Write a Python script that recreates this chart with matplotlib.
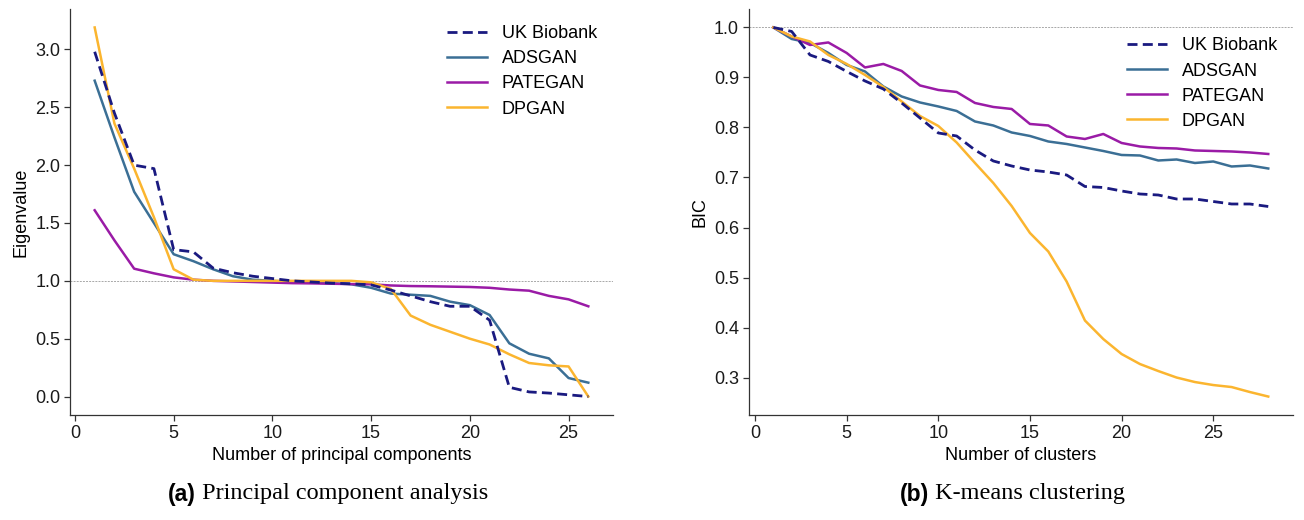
import matplotlib
matplotlib.use("Agg")
import matplotlib.pyplot as plt

# ---------------- data ----------------
pca_x = list(range(1, 27))
pca_uk = [2.98, 2.45, 2.00, 1.97, 1.27, 1.25, 1.11, 1.07, 1.04, 1.02, 1.00, 0.99, 0.98,
          0.975, 0.965, 0.92, 0.87, 0.82, 0.78, 0.78, 0.66, 0.08, 0.04, 0.03, 0.015, 0.0]
pca_ads = [2.73, 2.24, 1.77, 1.50, 1.23, 1.17, 1.10, 1.04, 1.01, 1.00, 0.99, 0.985, 0.98,
           0.97, 0.94, 0.89, 0.88, 0.87, 0.82, 0.79, 0.705, 0.46, 0.37, 0.33, 0.16, 0.12]
pca_pate = [1.61, 1.35, 1.105, 1.065, 1.03, 1.01, 1.0, 0.995, 0.99, 0.985, 0.98, 0.978, 0.975,
            0.972, 0.97, 0.96, 0.955, 0.953, 0.95, 0.947, 0.94, 0.925, 0.915, 0.87, 0.84, 0.78]
pca_dp = [3.19, 2.36, 1.97, 1.55, 1.10, 1.01, 1.0, 1.0, 1.0, 1.0, 1.0, 1.0, 1.0,
          1.0, 0.987, 0.93, 0.70, 0.62, 0.56, 0.50, 0.45, 0.365, 0.29, 0.27, 0.26, 0.0]

km_x = list(range(1, 29))
km_uk = [1.0, 0.992, 0.945, 0.932, 0.912, 0.893, 0.877, 0.849, 0.819, 0.789, 0.783, 0.755,
         0.733, 0.723, 0.715, 0.711, 0.705, 0.682, 0.680, 0.673, 0.667, 0.665, 0.657, 0.657,
         0.652, 0.647, 0.647, 0.642]
km_ads = [1.0, 0.977, 0.969, 0.949, 0.925, 0.912, 0.882, 0.862, 0.850, 0.842, 0.833, 0.812,
          0.804, 0.790, 0.783, 0.772, 0.767, 0.760, 0.753, 0.745, 0.744, 0.734, 0.736, 0.729,
          0.732, 0.722, 0.724, 0.718]
km_pate = [1.0, 0.982, 0.965, 0.970, 0.949, 0.920, 0.927, 0.913, 0.884, 0.875, 0.871, 0.849,
           0.841, 0.837, 0.807, 0.804, 0.782, 0.777, 0.787, 0.769, 0.762, 0.759, 0.758, 0.754,
           0.753, 0.752, 0.750, 0.747]
km_dp = [1.0, 0.982, 0.972, 0.945, 0.927, 0.905, 0.881, 0.852, 0.823, 0.803, 0.770, 0.729,
         0.689, 0.643, 0.589, 0.552, 0.492, 0.414, 0.377, 0.347, 0.327, 0.313, 0.300, 0.291,
         0.285, 0.281, 0.271, 0.262]

labels = ["UK Biobank", "ADSGAN", "PATEGAN", "DPGAN"]
colors = ["#1a1a80", "#3b6f95", "#9a1ba6", "#fbb52f"]

plt.rcParams['font.family'] = ['Liberation Sans', 'DejaVu Sans']
plt.rcParams['font.size'] = 13

fig = plt.figure(figsize=(13.04, 5.2), dpi=100)
ax1 = fig.add_axes([70/1304, 105/520, 543/1304, 406/520])
ax2 = fig.add_axes([748.6/1304, 105/520, 544.4/1304, 406/520])


def draw(ax, x, series, xlabel, ylabel, yticks, legend_anchor):
    ax.axhline(1.0, color="#a8a8a8", lw=0.7, ls=(0, (2, 1.2)), zorder=1)
    for i, (ys, lab, col) in enumerate(zip(series, labels, colors)):
        if i == 0:
            ax.plot(x, ys, color=col, lw=2.0, ls=(0, (3.6, 1.9)), label=lab, zorder=5)
        else:
            ax.plot(x, ys, color=col, lw=1.8, label=lab, zorder=3)
    ax.set_xlabel(xlabel, fontsize=13, labelpad=4)
    ax.set_ylabel(ylabel, fontsize=13, labelpad=4)
    ax.set_xticks([0, 5, 10, 15, 20, 25])
    ax.set_yticks(yticks)
    for s in ["top", "right"]:
        ax.spines[s].set_visible(False)
    for s in ["left", "bottom"]:
        ax.spines[s].set_color("#333333")
        ax.spines[s].set_linewidth(0.9)
    ax.tick_params(axis="both", length=4, width=0.9, color="#333333",
                   labelsize=13, labelcolor="#1a1a1a", pad=3)
    leg = ax.legend(loc="upper right", bbox_to_anchor=legend_anchor, frameon=False,
                    fontsize=13, handlelength=2.2, handletextpad=0.8, labelspacing=0.45)
    return leg


draw(ax1, pca_x, [pca_uk, pca_ads, pca_pate, pca_dp],
     "Number of principal components", "Eigenvalue",
     [0.0, 0.5, 1.0, 1.5, 2.0, 2.5, 3.0], (1.0, 1.0))
ax1.set_yticklabels(["0.0", "0.5", "1.0", "1.5", "2.0", "2.5", "3.0"])
draw(ax2, km_x, [km_uk, km_ads, km_pate, km_dp],
     "Number of clusters", "BIC",
     [0.3, 0.4, 0.5, 0.6, 0.7, 0.8, 0.9, 1.0], (1.0, 0.97))
ax2.set_yticklabels(["0.3", "0.4", "0.5", "0.6", "0.7", "0.8", "0.9", "1.0"])

# captions
for xc, tag, txt in [(328, "(a)", "Principal component analysis"),
                     (1012, "(b)", "K-means clustering")]:
    t1 = fig.text(0, 0, tag, fontsize=16.5, fontweight="bold",
                  family=["Liberation Sans", "DejaVu Sans"], va="center", ha="left")
    t2 = fig.text(0, 0, " " + txt, fontsize=17.5,
                  family=["Liberation Serif", "DejaVu Serif"], va="center", ha="left")
    fig.canvas.draw()
    r = fig.canvas.get_renderer()
    w1 = t1.get_window_extent(r).width
    w2 = t2.get_window_extent(r).width
    x0 = xc - (w1 + w2) / 2
    yc = 1 - 494 / 520
    t1.set_position((x0 / 1304, yc))
    t2.set_position(((x0 + w1) / 1304, yc))

fig.savefig("out.png", dpi=100)
